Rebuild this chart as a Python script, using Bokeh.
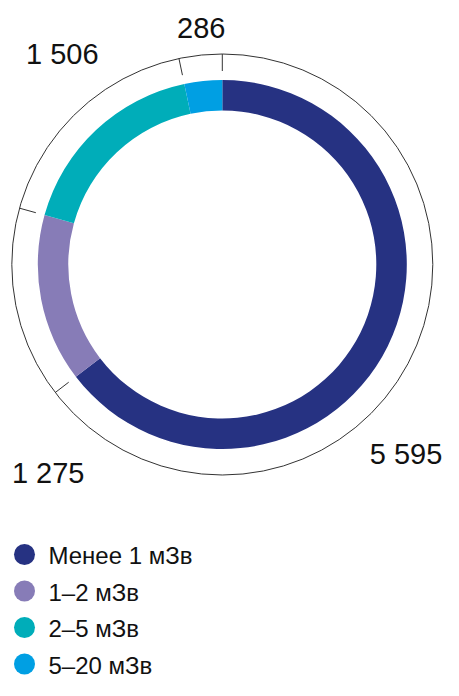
import math
from bokeh.plotting import figure
from bokeh.models import Range1d
from bokeh.core.properties import value
from bokeh.embed import file_html
from bokeh.resources import INLINE

# ---- data ----
categories = ["Менее 1 мЗв", "1–2 мЗв", "2–5 мЗв", "5–20 мЗв"]
values = [5595, 1275, 1506, 286]
value_labels = ["5 595", "1 275", "1 506", "286"]
colors = ["#263282", "#877cb7", "#00adb9", "#009fe3"]

# ---- layout ----
W, H = 443, 680
CX, CY = 221.8, 416          # donut centre (data units = pixels)
R_OUT, R_IN = 184.5, 154
R_RING = 210.5
TICK_LEN = 17
# label placement: clockwise angle from top (deg) and radius
label_angle = [135.9, 219.8, 322.7, 354.9]
label_radius = [264, 272, 264, 237]
FONT = "Liberation Sans"

p = figure(width=W, height=H, output_backend="svg", toolbar_location=None,
           x_range=Range1d(0, W), y_range=Range1d(0, H), min_border=0)
p.axis.visible = False
p.grid.visible = False
p.outline_line_color = None

total = float(sum(values))
cum = [0.0]
for v in values:
    cum.append(cum[-1] + v / total * 2 * math.pi)

starts = [math.pi / 2 - cum[i + 1] for i in range(len(values))]
ends = [math.pi / 2 - cum[i] for i in range(len(values))]

p.annular_wedge(x=[CX] * len(values), y=[CY] * len(values),
                inner_radius=R_IN, outer_radius=R_OUT,
                start_angle=starts, end_angle=ends,
                fill_color=colors, line_color=None)

# thin outer ring
p.circle(x=[CX], y=[CY], radius=R_RING, fill_color=None,
         line_color="#333333", line_width=1)

# ticks at segment boundaries
xs, ys = [], []
for c in cum[:-1]:
    a = math.pi / 2 - c
    xs.append([CX + R_RING * math.cos(a), CX + (R_RING - TICK_LEN) * math.cos(a)])
    ys.append([CY + R_RING * math.sin(a), CY + (R_RING - TICK_LEN) * math.sin(a)])
p.multi_line(xs=xs, ys=ys, line_color="#333333", line_width=1)

# value labels
lx = [CX + r * math.sin(math.radians(a)) for a, r in zip(label_angle, label_radius)]
ly = [CY + r * math.cos(math.radians(a)) for a, r in zip(label_angle, label_radius)]
p.text(x=lx, y=ly, text=value_labels, text_font=value(FONT),
       text_font_size="29px", text_align="center", text_baseline="middle",
       text_color="#111111")

# legend
LEG_X, LEG_Y0, LEG_DY = 24, 126, 36.5
leg_y = [LEG_Y0 - i * LEG_DY for i in range(len(categories))]
p.scatter(x=[LEG_X] * len(categories), y=leg_y, size=21, marker="circle",
          fill_color=colors, line_color=None)
p.text(x=[LEG_X + 24] * len(categories), y=[yy - 1 for yy in leg_y], text=categories,
       text_font=value(FONT), text_font_size="24px", text_align="left",
       text_baseline="middle", text_color="#111111")

open("out.html", "w").write(file_html(p, INLINE))
